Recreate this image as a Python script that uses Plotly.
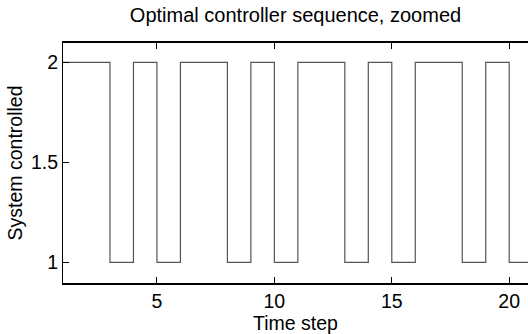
import plotly.graph_objects as go

# Controller chosen at each time step (stairs plot)
time_step = list(range(1, 22))
system_controlled = [2, 2, 1, 2, 1, 2, 2, 1, 2, 1, 2, 2, 1, 2, 1, 2, 2, 1, 2, 1, 1]

x_ticks = [5, 10, 15, 20]
y_ticks = [1, 1.5, 2]
y_tick_text = ["1", "1.5", "2"]

FONT = "Liberation Sans, Arial, sans-serif"

fig = go.Figure(
    go.Scatter(
        x=time_step,
        y=system_controlled,
        mode="lines",
        line=dict(shape="hv", color="#555555", width=1.2),
        showlegend=False,
        hoverinfo="x+y",
    )
)

fig.update_layout(
    width=528,
    height=334,
    margin=dict(l=63, r=0, t=43, b=51),
    paper_bgcolor="white",
    plot_bgcolor="white",
    font=dict(family=FONT, size=19.5, color="black"),
    title=dict(
        text="Optimal controller sequence, zoomed",
        x=0.5,
        xref="paper",
        xanchor="center",
        y=1 - 15 / 334,
        yref="container",
        yanchor="middle",
        font=dict(family=FONT, size=20, color="black"),
    ),
)

fig.update_xaxes(
    range=[1, 20.8],
    tickvals=x_ticks,
    ticks="inside",
    ticklen=6,
    tickwidth=1,
    tickcolor="black",
    showline=True,
    linecolor="black",
    linewidth=1.5,
    mirror="ticks",
    showgrid=False,
    zeroline=False,
    tickfont=dict(family=FONT, size=19.5, color="black"),
    title=dict(text="Time step", standoff=2, font=dict(family=FONT, size=19.5, color="black")),
)

fig.update_yaxes(
    range=[0.897, 2.097],
    tickvals=y_ticks,
    ticktext=y_tick_text,
    ticks="inside",
    ticklen=6,
    tickwidth=1,
    tickcolor="black",
    showline=True,
    linecolor="black",
    linewidth=1,
    mirror=False,
    showgrid=False,
    zeroline=False,
    tickfont=dict(family=FONT, size=19.5, color="black"),
    title=dict(text="System controlled", standoff=3, font=dict(family=FONT, size=19.5, color="black")),
)

fig.write_html("out.html")
